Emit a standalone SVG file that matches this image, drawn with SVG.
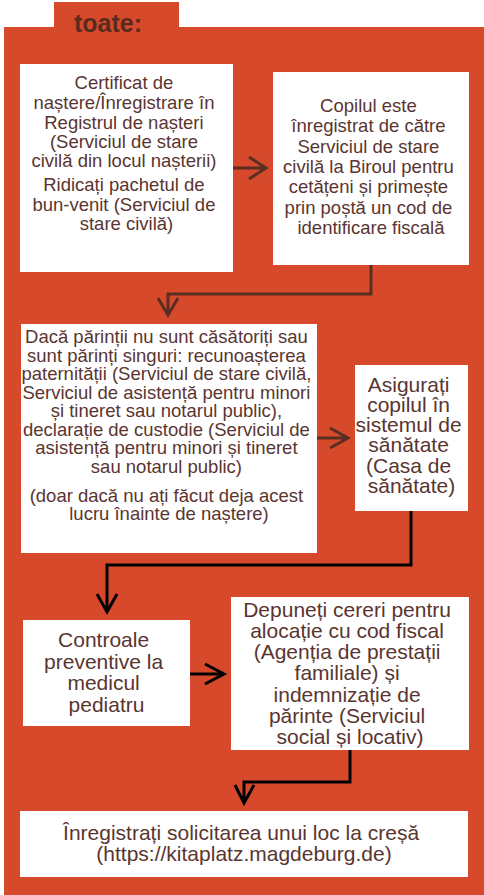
<svg xmlns="http://www.w3.org/2000/svg" width="484" height="895" viewBox="0 0 484 895">
<style>
.bg{fill:#d64a2b}
.box{fill:#ffffff}
.t{font-family:"Liberation Sans",Arial,sans-serif;fill:#5a3530;text-anchor:middle}
.s{font-size:18.5px}
.l{font-size:21px}
.cb{fill:none;stroke:#5a2e22;stroke-width:3}
.ck{fill:none;stroke:#000000;stroke-width:3}
</style>
<g id="background">
<rect class="bg" x="54" y="2" width="125" height="27"/>
<rect class="bg" x="4" y="27" width="480" height="868"/>
<text x="74" y="32" font-family="'Liberation Sans',Arial,sans-serif" font-weight="bold" font-size="25" fill="#5a2a1e">toate:</text>
</g>
<g id="connectors">
<path class="cb" d="M233 168H265M249 157L266 168L249 179"/>
<path class="cb" d="M371 265V294H168V314M158 298L168 315L178 298"/>
<path class="cb" d="M317 438H347M330 428L348 438L330 448"/>
<path class="ck" d="M411 511V565H107V611M97 594L107 612L117 594"/>
<path class="ck" d="M190 674H223M205 664L224 674L205 684"/>
<path class="ck" d="M350 750V782H244V802M235 785L244 803L254 785"/>
</g>
<g id="n1">
<rect class="box" x="20" y="64" width="213" height="208"/>
<text class="t s">
<tspan x="126.5" y="89">Certificat de</tspan>
<tspan x="126.5" y="109">naștere/Înregistrare în</tspan>
<tspan x="126.5" y="128.5">Registrul de nașteri</tspan>
<tspan x="126.5" y="147.5">(Serviciul de stare</tspan>
<tspan x="126.5" y="167">civilă din locul nașterii)</tspan>
<tspan x="126.5" y="191">Ridicați pachetul de</tspan>
<tspan x="126.5" y="210.5">bun-venit (Serviciul de</tspan>
<tspan x="126.5" y="230">stare civilă)</tspan>
</text>
</g>
<g id="n2">
<rect class="box" x="273" y="72" width="196" height="193"/>
<text class="t s">
<tspan x="371" y="112">Copilul este</tspan>
<tspan x="371" y="132.3">înregistrat de către</tspan>
<tspan x="371" y="152.6">Serviciul de stare</tspan>
<tspan x="371" y="172.9">civilă la Biroul pentru</tspan>
<tspan x="371" y="193.2">cetățeni și primește</tspan>
<tspan x="371" y="213.5">prin poștă un cod de</tspan>
<tspan x="371" y="233.8">identificare fiscală</tspan>
</text>
</g>
<g id="n3">
<rect class="box" x="21" y="324" width="296" height="229"/>
<text class="t s">
<tspan x="169" y="343.3">Dacă părinții nu sunt căsătoriți sau</tspan>
<tspan x="169" y="361.8">sunt părinți singuri: recunoașterea</tspan>
<tspan x="169" y="380.3">paternității (Serviciul de stare civilă,</tspan>
<tspan x="169" y="398.8">Serviciul de asistență pentru minori</tspan>
<tspan x="169" y="417.3">și tineret sau notarul public),</tspan>
<tspan x="169" y="435.8">declarație de custodie (Serviciul de</tspan>
<tspan x="169" y="454.3">asistență pentru minori și tineret</tspan>
<tspan x="169" y="472.8">sau notarul public)</tspan>
<tspan x="169" y="501.5">(doar dacă nu ați făcut deja acest</tspan>
<tspan x="169" y="520">lucru înainte de naștere)</tspan>
</text>
</g>
<g id="n4">
<rect class="box" x="355" y="365" width="113" height="146"/>
<text class="t l">
<tspan x="411.5" y="391.7">Asigurați</tspan>
<tspan x="411.5" y="411.9">copilul în</tspan>
<tspan x="411.5" y="432.1">sistemul de</tspan>
<tspan x="411.5" y="452.3">sănătate</tspan>
<tspan x="411.5" y="472.5">(Casa de</tspan>
<tspan x="411.5" y="492.7">sănătate)</tspan>
</text>
</g>
<g id="n5">
<rect class="box" x="23" y="620" width="167" height="106"/>
<text class="t l">
<tspan x="106.5" y="647.3">Controale</tspan>
<tspan x="106.5" y="668.7">preventive la</tspan>
<tspan x="106.5" y="690.1">medicul</tspan>
<tspan x="106.5" y="711.5">pediatru</tspan>
</text>
</g>
<g id="n6">
<rect class="box" x="231" y="597" width="238" height="153"/>
<text class="t l">
<tspan x="350" y="616.7">Depuneți cereri pentru</tspan>
<tspan x="350" y="637.9">alocație cu cod fiscal</tspan>
<tspan x="350" y="659.1">(Agenția de prestații</tspan>
<tspan x="350" y="680.3">familiale) și</tspan>
<tspan x="350" y="701.5">indemnizație de</tspan>
<tspan x="350" y="722.7">părinte (Serviciul</tspan>
<tspan x="350" y="743.9">social și locativ)</tspan>
</text>
</g>
<g id="n7">
<rect class="box" x="20" y="811" width="448" height="66"/>
<text class="t l">
<tspan x="244" y="840">Înregistrați solicitarea unui loc la creșă</tspan>
<tspan x="244" y="860.7">(https://kitaplatz.magdeburg.de)</tspan>
</text>
</g>
</svg>
